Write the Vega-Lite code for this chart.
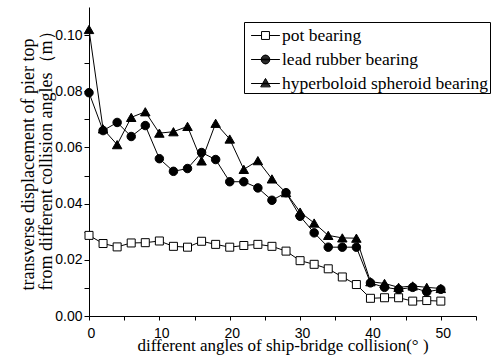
{
  "$schema": "https://vega.github.io/schema/vega-lite/v6.json",
  "width": 387,
  "height": 309,
  "autosize": {"type": "none"},
  "padding": {"left": 89, "top": 7, "right": 15, "bottom": 42},
  "background": "white",
  "config": {
    "view": {"stroke": null},
    "axis": {
      "domainColor": "black", "tickColor": "black", "labelColor": "black", "titleColor": "black",
      "grid": false, "labelFont": "Liberation Sans", "labelFontSize": 14,
      "titleFont": "Liberation Serif", "titleFontSize": 17, "titleFontWeight": "normal",
      "labelOverlap": false, "labelFlush": false
    },
    "legend": {
      "labelFont": "Liberation Serif", "labelFontSize": 17.5, "labelColor": "black"
    }
  },
  "data": {"values": [
    {"angle": 0, "series": "pot bearing", "disp": 0.0287},
    {"angle": 2, "series": "pot bearing", "disp": 0.0258},
    {"angle": 4, "series": "pot bearing", "disp": 0.0246},
    {"angle": 6, "series": "pot bearing", "disp": 0.0260},
    {"angle": 8, "series": "pot bearing", "disp": 0.0261},
    {"angle": 10, "series": "pot bearing", "disp": 0.0267},
    {"angle": 12, "series": "pot bearing", "disp": 0.0248},
    {"angle": 14, "series": "pot bearing", "disp": 0.0245},
    {"angle": 16, "series": "pot bearing", "disp": 0.0266},
    {"angle": 18, "series": "pot bearing", "disp": 0.0255},
    {"angle": 20, "series": "pot bearing", "disp": 0.0245},
    {"angle": 22, "series": "pot bearing", "disp": 0.0251},
    {"angle": 24, "series": "pot bearing", "disp": 0.0255},
    {"angle": 26, "series": "pot bearing", "disp": 0.0248},
    {"angle": 28, "series": "pot bearing", "disp": 0.0231},
    {"angle": 30, "series": "pot bearing", "disp": 0.0197},
    {"angle": 32, "series": "pot bearing", "disp": 0.0184},
    {"angle": 34, "series": "pot bearing", "disp": 0.0168},
    {"angle": 36, "series": "pot bearing", "disp": 0.0139},
    {"angle": 38, "series": "pot bearing", "disp": 0.0112},
    {"angle": 40, "series": "pot bearing", "disp": 0.0063},
    {"angle": 42, "series": "pot bearing", "disp": 0.0065},
    {"angle": 44, "series": "pot bearing", "disp": 0.0065},
    {"angle": 46, "series": "pot bearing", "disp": 0.0053},
    {"angle": 48, "series": "pot bearing", "disp": 0.0055},
    {"angle": 50, "series": "pot bearing", "disp": 0.0053},
    {"angle": 0, "series": "lead rubber bearing", "disp": 0.0795},
    {"angle": 2, "series": "lead rubber bearing", "disp": 0.0660},
    {"angle": 4, "series": "lead rubber bearing", "disp": 0.0689},
    {"angle": 6, "series": "lead rubber bearing", "disp": 0.0639},
    {"angle": 8, "series": "lead rubber bearing", "disp": 0.0678},
    {"angle": 10, "series": "lead rubber bearing", "disp": 0.0560},
    {"angle": 12, "series": "lead rubber bearing", "disp": 0.0515},
    {"angle": 14, "series": "lead rubber bearing", "disp": 0.0525},
    {"angle": 16, "series": "lead rubber bearing", "disp": 0.0582},
    {"angle": 18, "series": "lead rubber bearing", "disp": 0.0557},
    {"angle": 20, "series": "lead rubber bearing", "disp": 0.0478},
    {"angle": 22, "series": "lead rubber bearing", "disp": 0.0478},
    {"angle": 24, "series": "lead rubber bearing", "disp": 0.0456},
    {"angle": 26, "series": "lead rubber bearing", "disp": 0.0412},
    {"angle": 28, "series": "lead rubber bearing", "disp": 0.0439},
    {"angle": 30, "series": "lead rubber bearing", "disp": 0.0355},
    {"angle": 32, "series": "lead rubber bearing", "disp": 0.0296},
    {"angle": 34, "series": "lead rubber bearing", "disp": 0.0245},
    {"angle": 36, "series": "lead rubber bearing", "disp": 0.0245},
    {"angle": 38, "series": "lead rubber bearing", "disp": 0.0245},
    {"angle": 40, "series": "lead rubber bearing", "disp": 0.0118},
    {"angle": 42, "series": "lead rubber bearing", "disp": 0.0102},
    {"angle": 44, "series": "lead rubber bearing", "disp": 0.0095},
    {"angle": 46, "series": "lead rubber bearing", "disp": 0.0102},
    {"angle": 48, "series": "lead rubber bearing", "disp": 0.0086},
    {"angle": 50, "series": "lead rubber bearing", "disp": 0.0095},
    {"angle": 0, "series": "hyperboloid spheroid bearing", "disp": 0.1020},
    {"angle": 2, "series": "hyperboloid spheroid bearing", "disp": 0.0666},
    {"angle": 4, "series": "hyperboloid spheroid bearing", "disp": 0.0610},
    {"angle": 6, "series": "hyperboloid spheroid bearing", "disp": 0.0707},
    {"angle": 8, "series": "hyperboloid spheroid bearing", "disp": 0.0727},
    {"angle": 10, "series": "hyperboloid spheroid bearing", "disp": 0.0651},
    {"angle": 12, "series": "hyperboloid spheroid bearing", "disp": 0.0656},
    {"angle": 14, "series": "hyperboloid spheroid bearing", "disp": 0.0675},
    {"angle": 16, "series": "hyperboloid spheroid bearing", "disp": 0.0552},
    {"angle": 18, "series": "hyperboloid spheroid bearing", "disp": 0.0686},
    {"angle": 20, "series": "hyperboloid spheroid bearing", "disp": 0.0630},
    {"angle": 22, "series": "hyperboloid spheroid bearing", "disp": 0.0522},
    {"angle": 24, "series": "hyperboloid spheroid bearing", "disp": 0.0553},
    {"angle": 26, "series": "hyperboloid spheroid bearing", "disp": 0.0488},
    {"angle": 28, "series": "hyperboloid spheroid bearing", "disp": 0.0439},
    {"angle": 30, "series": "hyperboloid spheroid bearing", "disp": 0.0370},
    {"angle": 32, "series": "hyperboloid spheroid bearing", "disp": 0.0331},
    {"angle": 34, "series": "hyperboloid spheroid bearing", "disp": 0.0287},
    {"angle": 36, "series": "hyperboloid spheroid bearing", "disp": 0.0278},
    {"angle": 38, "series": "hyperboloid spheroid bearing", "disp": 0.0277},
    {"angle": 40, "series": "hyperboloid spheroid bearing", "disp": 0.0122},
    {"angle": 42, "series": "hyperboloid spheroid bearing", "disp": 0.0116},
    {"angle": 44, "series": "hyperboloid spheroid bearing", "disp": 0.0102},
    {"angle": 46, "series": "hyperboloid spheroid bearing", "disp": 0.0107},
    {"angle": 48, "series": "hyperboloid spheroid bearing", "disp": 0.0102},
    {"angle": 50, "series": "hyperboloid spheroid bearing", "disp": 0.0098}
  ]},
  "encoding": {
    "x": {
      "field": "angle", "type": "quantitative",
      "scale": {"domain": [0, 55], "nice": false, "zero": false},
      "axis": {
        "values": [0, 5, 10, 15, 20, 25, 30, 35, 40, 45, 50, 55],
        "labelExpr": "datum.value % 10 === 0 ? datum.label : ''",
        "tickSize": 4, "labelPadding": 6, "labelOffset": 2,
        "title": "different angles of ship-bridge collision(° )",
        "titleX": 193.5, "titleY": 34, "titleBaseline": "alphabetic", "titleAlign": "center"
      }
    },
    "y": {
      "field": "disp", "type": "quantitative",
      "scale": {"domain": [0, 0.11], "nice": false, "zero": false},
      "axis": {
        "values": [0, 0.01, 0.02, 0.03, 0.04, 0.05, 0.06, 0.07, 0.08, 0.09, 0.1],
        "labelExpr": "round(datum.value * 100) % 2 === 0 ? format(datum.value, '.2f') : ''",
        "tickSize": 5, "labelPadding": 2,
        "title": ["transverse displacement of pier top", "from different collision angles（m）"],
        "titleAngle": -90, "titleX": -70, "titleY": 283, "titleAlign": "left", "titleBaseline": "top",
        "titleFontSize": 18, "titleLineHeight": 18
      }
    }
  },
  "layer": [
    {
      "mark": {"type": "line", "color": "black", "strokeWidth": 1},
      "encoding": {"detail": {"field": "series"}}
    },
    {
      "transform": [{"filter": "datum.series === 'pot bearing'"}],
      "mark": {"type": "point", "shape": "square", "filled": true, "fill": "white", "stroke": "black", "strokeWidth": 1, "size": 64, "opacity": 1}
    },
    {
      "transform": [{"filter": "datum.series === 'lead rubber bearing'"}],
      "mark": {"type": "point", "shape": "circle", "filled": true, "fill": "black", "stroke": "black", "strokeWidth": 1, "size": 72, "opacity": 1}
    },
    {
      "transform": [{"filter": "datum.series === 'hyperboloid spheroid bearing'"}],
      "mark": {"type": "point", "shape": "triangle-up", "filled": true, "fill": "black", "stroke": "black", "strokeWidth": 1, "size": 90, "opacity": 1}
    },
    {
      "transform": [{"filter": "datum.angle < 0"}],
      "mark": {"type": "point", "stroke": "black", "strokeWidth": 1, "size": 576, "opacity": 1},
      "encoding": {
        "shape": {"field": "series", "type": "nominal",
          "scale": {"domain": ["pot bearing", "lead rubber bearing", "hyperboloid spheroid bearing"],
            "range": [
              "M-1.2,0H-0.33M0.33,0H1.2M-0.33,-0.33H0.33V0.33H-0.33Z",
              "M-1.2,0H1.2M-0.36,0A0.36,0.36,0,1,0,0.36,0A0.36,0.36,0,1,0,-0.36,0ZM-0.084,-0.35H0.084M-0.226,-0.28H0.226M-0.292,-0.21H0.292M-0.332,-0.14H0.332M-0.353,-0.07H0.353M-0.353,0.07H0.353M-0.332,0.14H0.332M-0.292,0.21H0.292M-0.226,0.28H0.226M-0.084,0.35H0.084",
              "M-1.2,0H1.2M0,-0.42L0.4,0.28L-0.4,0.28ZM-0.04,-0.35H0.04M-0.08,-0.28H0.08M-0.12,-0.21H0.12M-0.16,-0.14H0.16M-0.2,-0.07H0.2M-0.28,0.07H0.28M-0.32,0.14H0.32M-0.36,0.21H0.36"
            ]},
          "legend": {
            "title": null, "orient": "none", "legendX": 155, "legendY": 15,
            "direction": "vertical",
            "strokeColor": "black", "fillColor": "white", "padding": 1,
            "symbolSize": 576, "symbolOffset": 8, "symbolStrokeColor": "black", "symbolStrokeWidth": 1,
            "labelFont": "Liberation Serif", "labelFontSize": 17.5, "labelColor": "black",
            "labelOffset": 4, "labelLimit": 400, "rowPadding": 3
          }
        }
      }
    }
  ]
}
